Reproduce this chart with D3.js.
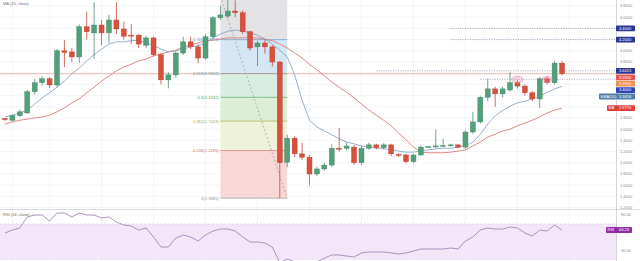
<!DOCTYPE html>
<html>
<head>
<meta charset="utf-8">
<script src="https://cdn.jsdelivr.net/npm/d3@7"></script>
<style>
  html, body { margin: 0; padding: 0; background: #fff; overflow: hidden; }
  svg { display: block; font-family: "Liberation Sans", Arial, sans-serif; }
</style>
</head>
<body>
<svg id="chart" width="640" height="261"></svg>
<script>
// ---- weekly OHLC bars ----
const opens = [2.79,2.76,2.84,2.89,3.27,3.43,3.50,3.39,4.00,3.98,
  3.89,4.43,4.32,4.46,4.32,4.55,4.39,4.28,4.28,4.10,
  4.23,3.93,3.48,3.57,3.96,4.16,4.07,3.87,4.25,4.59,
  4.62,4.71,4.68,4.34,4.07,4.14,4.07,3.80,2.01,2.44,
  2.16,2.10,1.80,1.89,1.96,2.26,2.26,2.28,2.00,2.26,
  2.32,2.27,2.32,2.15,2.14,2.02,2.14,2.28,2.29,2.30,
  2.31,2.32,2.28,2.55,2.73,3.17,3.32,3.23,3.30,3.43,
  3.37,3.25,3.14,3.50,3.43,3.78];
const highs = [2.80,2.86,2.95,3.30,3.50,3.55,3.53,4.03,4.19,4.05,
  4.47,4.70,4.87,4.55,4.64,4.87,4.52,4.48,4.30,4.27,
  4.25,3.96,3.62,3.99,4.25,4.25,4.12,4.30,4.62,4.80,
  4.95,4.90,4.72,4.36,4.18,4.20,4.10,3.82,2.50,2.48,
  2.36,2.14,1.93,2.00,2.33,2.62,2.36,2.32,2.30,2.36,
  2.34,2.35,2.34,2.17,2.16,2.16,2.31,2.30,2.59,2.43,
  2.34,2.34,2.58,2.91,3.20,3.50,3.36,3.36,3.62,3.47,
  3.40,3.28,3.53,3.54,3.82,3.82];
const lows = [2.75,2.74,2.82,2.87,3.22,3.38,3.33,3.35,3.71,3.80,
  3.78,4.20,3.86,4.10,4.14,4.30,4.20,4.12,4.05,4.05,
  3.90,3.40,3.33,3.52,3.92,4.03,3.78,3.84,4.22,4.55,
  4.58,4.60,4.30,4.00,3.73,3.95,3.72,1.37,1.92,2.10,
  2.05,1.60,1.76,1.86,1.92,2.20,2.22,1.96,1.96,2.23,
  2.24,2.24,2.12,2.10,1.99,1.99,2.12,2.27,2.27,2.28,
  2.29,2.26,2.25,2.52,2.70,3.10,3.00,3.17,3.27,3.33,
  3.20,3.10,2.98,3.40,3.40,3.56];
const closes = [2.77,2.84,2.91,3.27,3.43,3.50,3.39,4.00,3.97,3.89,
  4.43,4.34,4.46,4.32,4.55,4.39,4.26,4.27,4.12,4.23,
  3.93,3.48,3.57,3.96,4.16,4.07,3.87,4.25,4.59,4.64,
  4.71,4.68,4.34,4.05,4.14,4.07,3.80,2.00,2.44,2.16,
  2.10,1.80,1.89,1.96,2.26,2.25,2.30,2.00,2.26,2.32,
  2.27,2.32,2.16,2.14,2.02,2.14,2.28,2.29,2.30,2.31,
  2.32,2.28,2.55,2.73,3.17,3.32,3.23,3.32,3.43,3.37,
  3.25,3.14,3.50,3.43,3.78,3.59];

// ---- moving averages ----
const emaValues = [2.82,2.85,2.89,2.94,3.05,3.16,3.25,3.35,3.46,3.59,
  3.69,3.82,3.93,4.03,4.12,4.16,4.16,4.18,4.19,4.14,
  4.10,4.03,3.98,4.00,4.03,4.07,4.09,4.14,4.23,4.30,
  4.35,4.37,4.35,4.32,4.28,4.21,4.12,4.01,3.89,3.57,
  3.12,2.76,2.64,2.57,2.50,2.43,2.37,2.34,2.30,2.28,
  2.26,2.25,2.23,2.21,2.19,2.19,2.21,2.23,2.25,2.26,
  2.26,2.28,2.30,2.37,2.51,2.69,2.84,2.93,3.01,3.07,
  3.10,3.14,3.19,3.26,3.32,3.3658];
const maValues = [2.69,2.73,2.76,2.78,2.80,2.82,2.85,2.91,2.98,3.07,
  3.14,3.25,3.35,3.46,3.55,3.64,3.71,3.76,3.82,3.85,
  3.91,3.94,3.98,4.01,4.07,4.10,4.14,4.18,4.19,4.21,
  4.23,4.23,4.23,4.23,4.23,4.21,4.18,4.12,4.05,3.96,
  3.87,3.76,3.66,3.55,3.44,3.35,3.26,3.16,3.05,2.94,
  2.85,2.76,2.66,2.53,2.41,2.28,2.19,2.18,2.18,2.18,
  2.19,2.21,2.23,2.30,2.37,2.46,2.51,2.57,2.60,2.66,
  2.71,2.76,2.82,2.89,2.94,2.977];

// ---- RSI(14) ----
const rsiValues = [60.0,63.3,65.6,77.8,80.0,80.0,73.3,82.2,82.2,77.8,
  82.2,80.0,80.0,76.7,77.8,72.2,68.9,67.8,63.3,65.6,
  55.6,44.4,44.4,54.4,57.8,55.6,51.1,57.8,62.2,64.4,
  64.4,62.2,55.6,50.0,50.0,48.9,44.4,27.0,31.1,28.0,
  26.7,23.0,28.0,32.0,35.6,35.6,34.4,33.3,37.8,38.9,
  38.9,38.9,37.8,36.7,37.8,40.0,42.2,42.2,42.2,42.2,
  43.3,42.2,51.1,55.6,63.3,65.6,64.4,64.4,66.7,65.6,
  60.0,56.7,63.3,62.2,68.9,63.23];

// ---- axis ticks ----
const priceTicks = [1.2,1.4,1.6,1.8,2.0,2.2,2.4,2.6,2.8,3.0,3.2,3.4,3.6,3.8,4.0,4.2,4.4,4.6,4.8];
const rsiTicks = [40, 60, 80];
const gridBars = [1, 6, 13, 20, 27, 34, 41, 48, 55, 62, 69, 76];

// ---- drawings: fibonacci retracement, horizontal levels, highlights ----
const fibRatios = [0, 0.236, 0.382, 0.5, 0.618, 0.786, 1];
const fibHighBar = 29, fibHighPrice = 4.97;
const fibLowBar = 38, fibLowPrice = 1.3685;
const levelPrices = [4.40, 4.20, 3.6413, 3.49];
const levelStartBars = [60, 60, 50, 64];
const markerPrice = 3.40;
const highlightBars = [69, 73];
const highlightPrice = 3.49;

// ---------------------------------------------------------------
const svg = d3.select("#chart");
const axisX = 616, mainBottom = 209, height = 261, width = 640;

const x = d3.scaleLinear().domain([-0.673, 82.27]).range([0, axisX]);
const y = d3.scaleLinear().domain([1.175, 4.907]).range([mainBottom, 0]);
const yR = d3.scaleLinear().domain([28.89, 86.67]).range([height, mainBottom]);
const fmt4 = d3.format(".4f"), fmt2 = d3.format(".2f");

svg.append("rect").attr("width", width).attr("height", height).attr("fill", "#fff");

const defs = svg.append("defs");
defs.append("clipPath").attr("id", "clipMain")
  .append("rect").attr("x", 0).attr("y", 0).attr("width", axisX).attr("height", mainBottom);
defs.append("clipPath").attr("id", "clipRsi")
  .append("rect").attr("x", 0).attr("y", mainBottom + 1).attr("width", axisX).attr("height", height - mainBottom);

// grid
const grid = svg.append("g").attr("stroke", "#eef0f3").attr("stroke-width", 0.7);
grid.selectAll("line.h").data(priceTicks).join("line")
  .attr("x1", 0).attr("x2", axisX).attr("y1", d => y(d)).attr("y2", d => y(d));
grid.selectAll("line.v").data(gridBars).join("line")
  .attr("x1", d => x(d)).attr("x2", d => x(d)).attr("y1", 0).attr("y2", height);

// RSI background band 30..70
const rsiG = svg.append("g").attr("clip-path", "url(#clipRsi)");
rsiG.append("rect").attr("x", 0).attr("width", axisX)
  .attr("y", yR(70)).attr("height", yR(30) - yR(70)).attr("fill", "#f3e6f9");
rsiG.append("line").attr("x1", 0).attr("x2", axisX).attr("y1", yR(70)).attr("y2", yR(70))
  .attr("stroke", "#d7c3e2").attr("stroke-width", 0.6).attr("stroke-dasharray", "2,2");
rsiG.selectAll("line.rg").data(rsiTicks).join("line")
  .attr("x1", 0).attr("x2", axisX).attr("y1", d => yR(d)).attr("y2", d => yR(d))
  .attr("stroke", "#eee9f2").attr("stroke-width", 0.5);
rsiG.append("path")
  .attr("d", d3.line().x((d, i) => x(i)).y(d => yR(d))(rsiValues))
  .attr("fill", "none").attr("stroke", "#a48ab7").attr("stroke-width", 0.9);

// main pane
const main = svg.append("g").attr("clip-path", "url(#clipMain)");

// fibonacci zones
const fibPrice = r => fibLowPrice + r * (fibHighPrice - fibLowPrice);
const zoneFills = ["#f7d8d6", "#eef2d8", "#dcefd6", "#d8eee2", "#d5e7f5", "#e3e3e5"];
const lineColors = ["#9a9a9a", "#d27565", "#a3b24a", "#5aa95a", "#3f9f86", "#5b9bd0", "#9a9a9a"];
const fx0 = x(fibHighBar), fx1 = x(fibLowBar);
const zones = d3.pairs(fibRatios);
main.selectAll("rect.fz").data(zones).join("rect")
  .attr("x", fx0).attr("width", fx1 - fx0)
  .attr("y", d => y(fibPrice(d[1]))).attr("height", d => y(fibPrice(d[0])) - y(fibPrice(d[1])))
  .attr("fill", (d, i) => zoneFills[i]);
main.selectAll("line.fl").data(fibRatios).join("line")
  .attr("x1", fx0).attr("x2", fx1)
  .attr("y1", d => y(fibPrice(d))).attr("y2", d => y(fibPrice(d)))
  .attr("stroke", (d, i) => lineColors[i]).attr("stroke-width", 0.7);
// level captions (the top level sits above the visible range)
const shownRatios = fibRatios.filter(r => y(fibPrice(r)) > 4);
main.selectAll("text.ft").data(shownRatios).join("text")
  .attr("x", fx0 - 1.5).attr("y", d => y(fibPrice(d))).attr("dy", "0.35em")
  .attr("text-anchor", "end").attr("font-size", 4.2)
  .attr("fill", d => lineColors[fibRatios.indexOf(d)])
  .text(d => `${d}(${fmt4(fibPrice(d))})`);
main.append("line")
  .attr("x1", fx0).attr("y1", y(fibHighPrice)).attr("x2", fx1).attr("y2", y(fibLowPrice))
  .attr("stroke", "#9a9a9a").attr("stroke-width", 0.7).attr("stroke-dasharray", "2,2");

// horizontal levels
main.selectAll("line.lv").data(levelPrices).join("line")
  .attr("x1", (d, i) => x(levelStartBars[i])).attr("x2", axisX)
  .attr("y1", d => y(d)).attr("y2", d => y(d))
  .attr("stroke", "#8b90ad").attr("stroke-width", 0.8).attr("stroke-dasharray", "1,1.4");

// last price line
const lastClose = closes[closes.length - 1];
main.append("line").attr("x1", 0).attr("x2", axisX).attr("y1", y(lastClose)).attr("y2", y(lastClose))
  .attr("stroke", "#e99a94").attr("stroke-width", 0.7);

// moving averages
main.append("path").attr("d", d3.line().x((d, i) => x(i)).y(d => y(d))(maValues))
  .attr("fill", "none").attr("stroke", "#dc7c76").attr("stroke-width", 0.9);
main.append("path").attr("d", d3.line().x((d, i) => x(i)).y(d => y(d))(emaValues))
  .attr("fill", "none").attr("stroke", "#8aa6c6").attr("stroke-width", 0.9);

// candles
const bars = opens.map((o, i) => ({ i, o, h: highs[i], l: lows[i], c: closes[i] }));
const upFill = "#52a07a", downFill = "#d8513f";
const candle = main.selectAll("g.c").data(bars).join("g");
candle.append("line")
  .attr("x1", d => x(d.i)).attr("x2", d => x(d.i))
  .attr("y1", d => y(d.h)).attr("y2", d => y(d.l))
  .attr("stroke", d => d.c >= d.o ? "#4b8f70" : "#c4493a").attr("stroke-width", 0.8);
candle.append("rect")
  .attr("x", d => x(d.i) - 2.5).attr("width", 5)
  .attr("y", d => y(Math.max(d.o, d.c)))
  .attr("height", d => Math.max(1, Math.abs(y(d.o) - y(d.c))))
  .attr("fill", d => d.c >= d.o ? upFill : downFill)
  .attr("stroke", d => d.c >= d.o ? "#3f8564" : "#b6402f").attr("stroke-width", 0.4);

// highlight ellipses
main.selectAll("ellipse.hl").data(highlightBars).join("ellipse")
  .attr("cx", d => x(d)).attr("cy", y(highlightPrice))
  .attr("rx", (d, i) => i === 0 ? 6 : 5).attr("ry", 3)
  .attr("fill", "rgba(236,120,160,0.28)").attr("stroke", "#e58fb0").attr("stroke-width", 0.6);

// pane legends
svg.append("text").attr("x", 3).attr("y", 4).attr("dy", "0.35em")
  .attr("font-size", 4).attr("fill", "#6f6f6f").text("MA (20, close)");
svg.append("text").attr("x", 3).attr("y", 215).attr("dy", "0.35em")
  .attr("font-size", 4).attr("fill", "#6f6f6f").text("RSI (14, close)");

// pane separator and price axis
svg.append("line").attr("x1", 0).attr("x2", width).attr("y1", mainBottom + 0.5).attr("y2", mainBottom + 0.5)
  .attr("stroke", "#cfd2d8").attr("stroke-width", 0.8);
svg.append("line").attr("x1", axisX + 0.5).attr("x2", axisX + 0.5).attr("y1", 0).attr("y2", height)
  .attr("stroke", "#c8ccd3").attr("stroke-width", 0.8);

// price-axis value boxes, stacked so they never overlap
const boxH = 6.4;
const boxes = [
  ...levelPrices.slice(0, 3).map(v => ({ v, name: "", text: fmt4(v), fill: "#2b3592", left: axisX })),
  { v: lastClose, name: "", text: fmt4(lastClose), fill: "#e4574e", left: axisX },
  { v: levelPrices[3], name: "", text: fmt4(levelPrices[3]), fill: "#f0904e", left: axisX },
  { v: markerPrice, name: "", text: fmt4(markerPrice), fill: "#2f43b4", left: axisX },
  { v: emaValues[emaValues.length - 1], name: "EMA(10)", text: fmt4(emaValues[emaValues.length - 1]), fill: "#4f7faa", left: 599 },
  { v: maValues[maValues.length - 1], name: "MA", text: fmt4(maValues[maValues.length - 1]), fill: "#e0403a", left: 607 }
];
boxes.forEach(b => b.cy = y(b.v));
boxes.sort((a, b) => a.cy - b.cy);
for (let k = 1; k < boxes.length; k++) {
  if (boxes[k].cy < boxes[k - 1].cy + boxH) boxes[k].cy = boxes[k - 1].cy + boxH;
}

// tick labels that a value box covers are left out
const lastRsi = rsiValues[rsiValues.length - 1];
const freeTicks = priceTicks.filter(t => boxes.every(b => Math.abs(y(t) - b.cy) > boxH / 2 + 2));
const freeRsiTicks = rsiTicks.filter(t => Math.abs(yR(t) - yR(lastRsi)) > 5);

svg.selectAll("text.pt").data(freeTicks).join("text")
  .attr("x", axisX + 4).attr("y", d => y(d)).attr("dy", "0.35em")
  .attr("font-size", 4).attr("fill", "#8a8d93").text(d => fmt4(d));
svg.selectAll("text.rt").data(freeRsiTicks).join("text")
  .attr("x", axisX + 5).attr("y", d => yR(d)).attr("dy", "0.35em")
  .attr("font-size", 4).attr("fill", "#8a8d93").text(d => fmt2(d));

const bx = svg.selectAll("g.box").data(boxes).join("g");
bx.append("rect").attr("x", d => d.left).attr("y", d => d.cy - boxH / 2 + 0.3)
  .attr("width", d => 635 - d.left).attr("height", boxH - 0.6).attr("rx", 0.8)
  .attr("fill", d => d.fill);
bx.filter(d => d.name).append("text").attr("x", d => d.left + 1.5).attr("y", d => d.cy).attr("dy", "0.35em")
  .attr("font-size", 4).attr("fill", "#fff").text(d => d.name);
bx.append("text").attr("x", axisX + 3).attr("y", d => d.cy).attr("dy", "0.35em")
  .attr("font-size", 4).attr("fill", "#fff").text(d => d.text);

// RSI value box
svg.append("rect").attr("x", 606).attr("y", yR(lastRsi) - 3).attr("width", 26).attr("height", 6)
  .attr("rx", 0.8).attr("fill", "#8e2fa6");
svg.append("text").attr("x", 607.5).attr("y", yR(lastRsi)).attr("dy", "0.35em")
  .attr("font-size", 4).attr("fill", "#fff").text("RSI");
svg.append("text").attr("x", axisX + 3).attr("y", yR(lastRsi)).attr("dy", "0.35em")
  .attr("font-size", 4).attr("fill", "#fff").text(fmt2(lastRsi));
</script>
</body>
</html>
